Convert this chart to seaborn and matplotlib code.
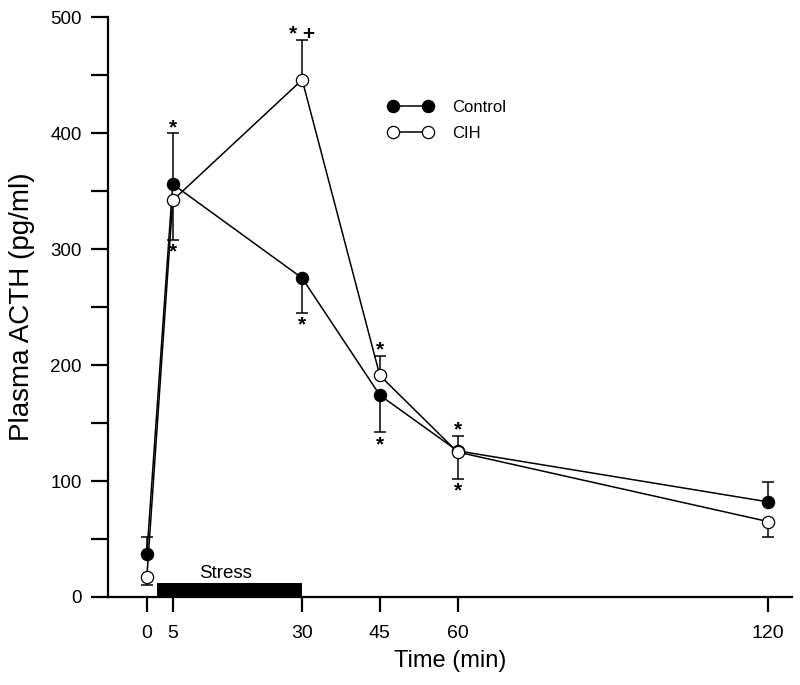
import numpy as np
import pandas as pd
import matplotlib
matplotlib.use('Agg')
import matplotlib.pyplot as plt
from matplotlib.ticker import MultipleLocator
import seaborn as sns

# Data (plasma ACTH, pg/ml)
time_min = [0, 5, 30, 45, 60, 120]
control = [37, 356, 275, 174, 126, 82]
control_err_up = [15, 44, 0, 0, 0, 17]
control_err_dn = [0, 0, 30, 32, 24, 0]
cih = [17, 342, 446, 191, 125, 65]
cih_err_up = [0, 0, 34, 17, 14, 0]
cih_err_dn = [7, 34, 0, 0, 0, 13]

# significance marks
control_sig_above = ['', '*', '', '', '', '']
control_sig_below = ['', '', '*', '*', '*', '']
cih_sig_above = ['', '', '* +', '*', '*', '']
cih_sig_below = ['', '*', '', '', '', '']

x_ticks = [0, 5, 30, 45, 60, 120]
stress_start, stress_end, stress_height = 2, 30, 12

sns.set_style('ticks')
plt.rcParams['font.family'] = ['Liberation Sans', 'DejaVu Sans']
plt.rcParams['text.color'] = 'black'
plt.rcParams['axes.labelcolor'] = 'black'
plt.rcParams['xtick.color'] = 'black'
plt.rcParams['ytick.color'] = 'black'
plt.rcParams['axes.edgecolor'] = 'black'

df_control = pd.DataFrame({'time': time_min, 'acth': control})
df_cih = pd.DataFrame({'time': time_min, 'acth': cih})

fig = plt.figure(figsize=(8, 6.85), dpi=100)
ax = fig.add_axes([0.135, 0.1285, 0.855, 0.8465])

lw = 1.1
ms = 8.8

# error bars (one-sided)
ax.errorbar(time_min, control, yerr=[control_err_dn, control_err_up], fmt='none',
            ecolor='black', elinewidth=lw, capsize=4.5, capthick=lw, zorder=2)
ax.errorbar(time_min, cih, yerr=[cih_err_dn, cih_err_up], fmt='none',
            ecolor='black', elinewidth=lw, capsize=4.5, capthick=lw, zorder=2)

sns.lineplot(data=df_control, x='time', y='acth', ax=ax, color='black', lw=lw,
             marker='o', markersize=ms, markerfacecolor='black',
             markeredgecolor='black', markeredgewidth=0.9, label='Control', zorder=3)
sns.lineplot(data=df_cih, x='time', y='acth', ax=ax, color='black', lw=lw,
             marker='o', markersize=ms, markerfacecolor='white',
             markeredgecolor='black', markeredgewidth=0.9, label='CIH', zorder=4)

# asterisks
def add_marks(vals, up, dn, above, below):
    for t, v, u, d, a, b in zip(time_min, vals, up, dn, above, below):
        if a:
            ax.annotate(a, (t, v + u), xytext=(0, 0), textcoords='offset points',
                        ha='center', va='baseline', fontsize=15, fontweight='bold')
        if b:
            ax.annotate(b, (t, v - d), xytext=(0, -2), textcoords='offset points',
                        ha='center', va='top', fontsize=15, fontweight='bold')

add_marks(control, control_err_up, control_err_dn, control_sig_above, control_sig_below)
add_marks(cih, cih_err_up, cih_err_dn, cih_sig_above, cih_sig_below)

# stress bar
ax.fill_between([stress_start, stress_end], 0, stress_height, color='black',
                lw=0, zorder=2)
ax.annotate('Stress', ((stress_start + stress_end) / 2, stress_height),
            xytext=(-3, 1), textcoords='offset points',
            ha='center', va='bottom', fontsize=13.5)

ax.set_xlim(-7.5, 124.6)
ax.set_ylim(0, 500)
ax.set_xticks(x_ticks)
ax.yaxis.set_major_locator(MultipleLocator(100))
ax.yaxis.set_minor_locator(MultipleLocator(50))
ax.tick_params(axis='both', which='both', direction='out', width=1.6)
ax.tick_params(axis='y', which='both', length=12.5, labelsize=13.5, pad=6.5)
ax.tick_params(axis='x', length=11, labelsize=14, pad=9)

ax.set_xlabel('Time (min)', fontsize=17, labelpad=6)
ax.set_ylabel('Plasma ACTH (pg/ml)', fontsize=20, labelpad=11)

sns.despine(ax=ax)
for s in ['left', 'bottom']:
    ax.spines[s].set_linewidth(1.6)

handles, labels = ax.get_legend_handles_labels()
ax.legend(handles, labels, loc='upper left', bbox_to_anchor=(0.399, 0.868),
          frameon=False, numpoints=2, handlelength=2.7, handletextpad=1.15,
          labelspacing=0.63, fontsize=12, borderaxespad=0)

fig.savefig('out.png', dpi=100)
